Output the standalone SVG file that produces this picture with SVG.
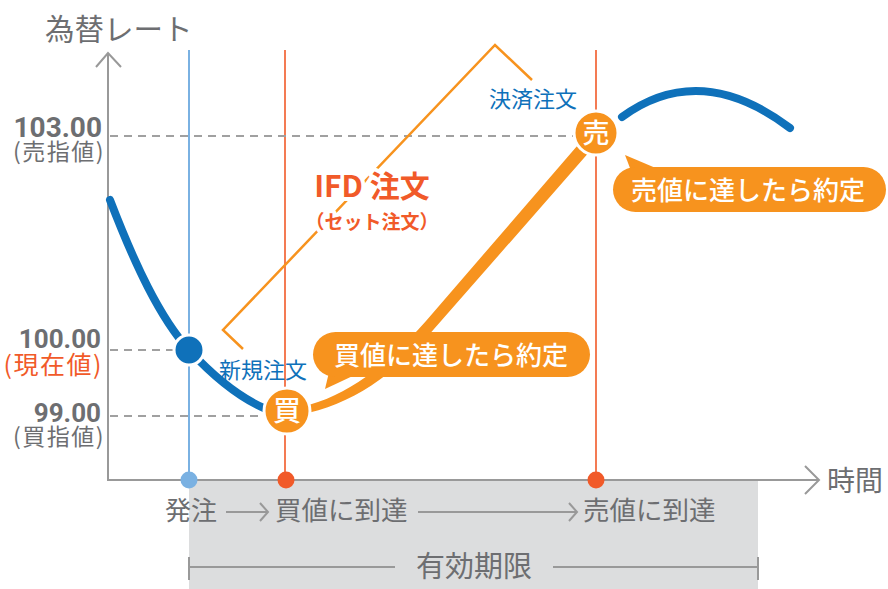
<svg xmlns="http://www.w3.org/2000/svg" width="888" height="589" viewBox="0 0 888 589">
<style>
.jp{font-family:"Noto Sans CJK JP","Noto Sans",sans-serif}
.num{font-family:Roboto,"Liberation Sans",sans-serif;font-weight:bold;fill:#6d6e71}
.g{fill:#6d6e71}
.ax{stroke:#999;stroke-width:2;fill:none}
.dash{stroke:#a0a0a0;stroke-width:2;stroke-dasharray:8 6;fill:none}
.vl-b{stroke:#7ab1e2;stroke-width:2}
.vl-r{stroke:#f15a29;stroke-width:1.6}
.blue{stroke:#0f71ba;stroke-width:8;fill:none;stroke-linecap:round}
.org{fill:#f7931e}
.halo{paint-order:stroke;stroke:#fff;stroke-width:8;stroke-linejoin:round}
.wt{fill:#fff}
.cl{font-weight:500}
</style>
<rect x="0" y="0" width="888" height="589" fill="#fff"/>
<!-- validity band -->
<rect x="189" y="481" width="569" height="108" fill="#dcddde"/>

<!-- axes -->
<g id="axes">
  <line class="ax" x1="108" y1="53" x2="108" y2="481"/>
  <polyline class="ax" points="96,67 108,53 121,67"/>
  <line class="ax" x1="107" y1="480" x2="819" y2="480"/>
  <polyline class="ax" points="805,466 819,480 805,494"/>
  <text class="jp g" x="45" y="40" font-size="29.5">為替レート</text>
  <text class="jp g" x="827" y="491" font-size="28">時間</text>
</g>

<!-- vertical event lines -->
<g id="event-lines">
  <line class="vl-b" x1="189" y1="50" x2="189" y2="480"/>
  <line class="vl-r" x1="285" y1="50" x2="285" y2="480"/>
  <line class="vl-r" x1="596" y1="50" x2="596" y2="480"/>
</g>

<!-- price levels -->
<g id="levels">
  <line class="dash" x1="110" y1="136" x2="576" y2="136"/>
  <line class="dash" x1="110" y1="350" x2="175" y2="350"/>
  <line class="dash" x1="110" y1="416" x2="264" y2="416"/>
  <text class="num" x="102" y="137" font-size="28" text-anchor="end">103.00</text>
  <text class="jp g" x="105" y="160" font-size="23" letter-spacing="1.5" text-anchor="end">(売指値)</text>
  <text class="num" x="101" y="348" font-size="26" text-anchor="end">100.00</text>
  <text class="jp" x="103" y="374" font-size="25" letter-spacing="1.5" text-anchor="end" fill="#f15a29">(現在値)</text>
  <text class="num" x="101" y="422" font-size="26" text-anchor="end">99.00</text>
  <text class="jp g" x="105" y="445" font-size="23" letter-spacing="1.5" text-anchor="end">(買指値)</text>
</g>

<!-- IFD bracket -->
<g id="ifd-bracket">
  <polyline points="243,349 223,330 495,45 532,80" fill="none" stroke="#f7931e" stroke-width="2.5"/>
  <text class="jp halo" x="372" y="197" font-size="30" font-weight="bold" text-anchor="middle" fill="#f15a29">IFD 注文</text>
  <text class="jp halo" x="372" y="229" font-size="19" font-weight="bold" text-anchor="middle" fill="#f15a29">（セット注文）</text>
  <text class="jp" x="533" y="107" font-size="22" text-anchor="middle" fill="#0f71ba">決済注文</text>
  <text class="jp" x="263" y="378" font-size="22" text-anchor="middle" fill="#0f71ba">新規注文</text>
</g>

<!-- connectors: rate curves -->
<g id="connectors">
  <path class="blue" d="M110,200 C135,265 160,318 189,350 C215,378 240,398 266,409"/>
  <path class="blue" d="M622,117 Q700,60 790,128"/>
  <path class="org" d="M300.8,407.1 C348,396 386,366 426,321 L579,143.7 L589,152.3 L434,329 C394,375 352,405 299.2,414.9 Z"/>
</g>

<!-- nodes -->
<g id="current-dot">
  <circle cx="189" cy="350" r="15" fill="#0f71ba" stroke="#fff" stroke-width="3"/>
</g>
<g id="buy-node">
  <circle cx="287" cy="411" r="23" fill="#f7931e" stroke="#fff" stroke-width="3"/>
  <text class="jp wt cl" x="287" y="421" font-size="28" text-anchor="middle">買</text>
</g>
<g id="sell-node">
  <circle cx="596" cy="133" r="22" fill="#f7931e" stroke="#fff" stroke-width="3"/>
  <text class="jp wt cl" x="596" y="143" font-size="27" text-anchor="middle">売</text>
</g>

<!-- callouts -->
<g id="buy-callout">
  <polygon class="org" points="330,368 325,389 357,374"/>
  <rect class="org" x="313" y="332" width="277" height="45" rx="22.5"/>
  <text class="jp wt cl" x="451" y="365" font-size="26" text-anchor="middle">買値に達したら約定</text>
</g>
<g id="sell-callout">
  <polygon class="org" points="625,155 633,176 658,169"/>
  <rect class="org" x="613" y="167" width="273" height="45" rx="22.5"/>
  <text class="jp wt cl" x="748" y="200" font-size="26" text-anchor="middle">売値に達したら約定</text>
</g>

<!-- timeline -->
<g id="timeline">
  <circle cx="189" cy="480" r="8.5" fill="#7ab1e2"/>
  <circle cx="286" cy="480" r="8.5" fill="#f15a29"/>
  <circle cx="596" cy="480" r="8.5" fill="#f15a29"/>
  <text class="jp g" x="165" y="520" font-size="26">発注</text>
  <line class="ax" x1="226" y1="512" x2="268" y2="512"/>
  <polyline class="ax" points="260,503 268,512 260,521"/>
  <text class="jp g" x="275" y="520" font-size="26.5">買値に到達</text>
  <line class="ax" x1="418" y1="512" x2="577" y2="512"/>
  <polyline class="ax" points="569,503 577,512 569,521"/>
  <text class="jp g" x="583" y="520" font-size="26.5">売値に到達</text>
</g>

<g id="validity">
  <line class="ax" x1="189" y1="567" x2="395" y2="567"/>
  <line class="ax" x1="189" y1="557" x2="189" y2="580"/>
  <line class="ax" x1="553" y1="567" x2="758" y2="567"/>
  <line class="ax" x1="758" y1="557" x2="758" y2="580"/>
  <text class="jp g" x="474" y="577" font-size="29" text-anchor="middle">有効期限</text>
</g>
</svg>
